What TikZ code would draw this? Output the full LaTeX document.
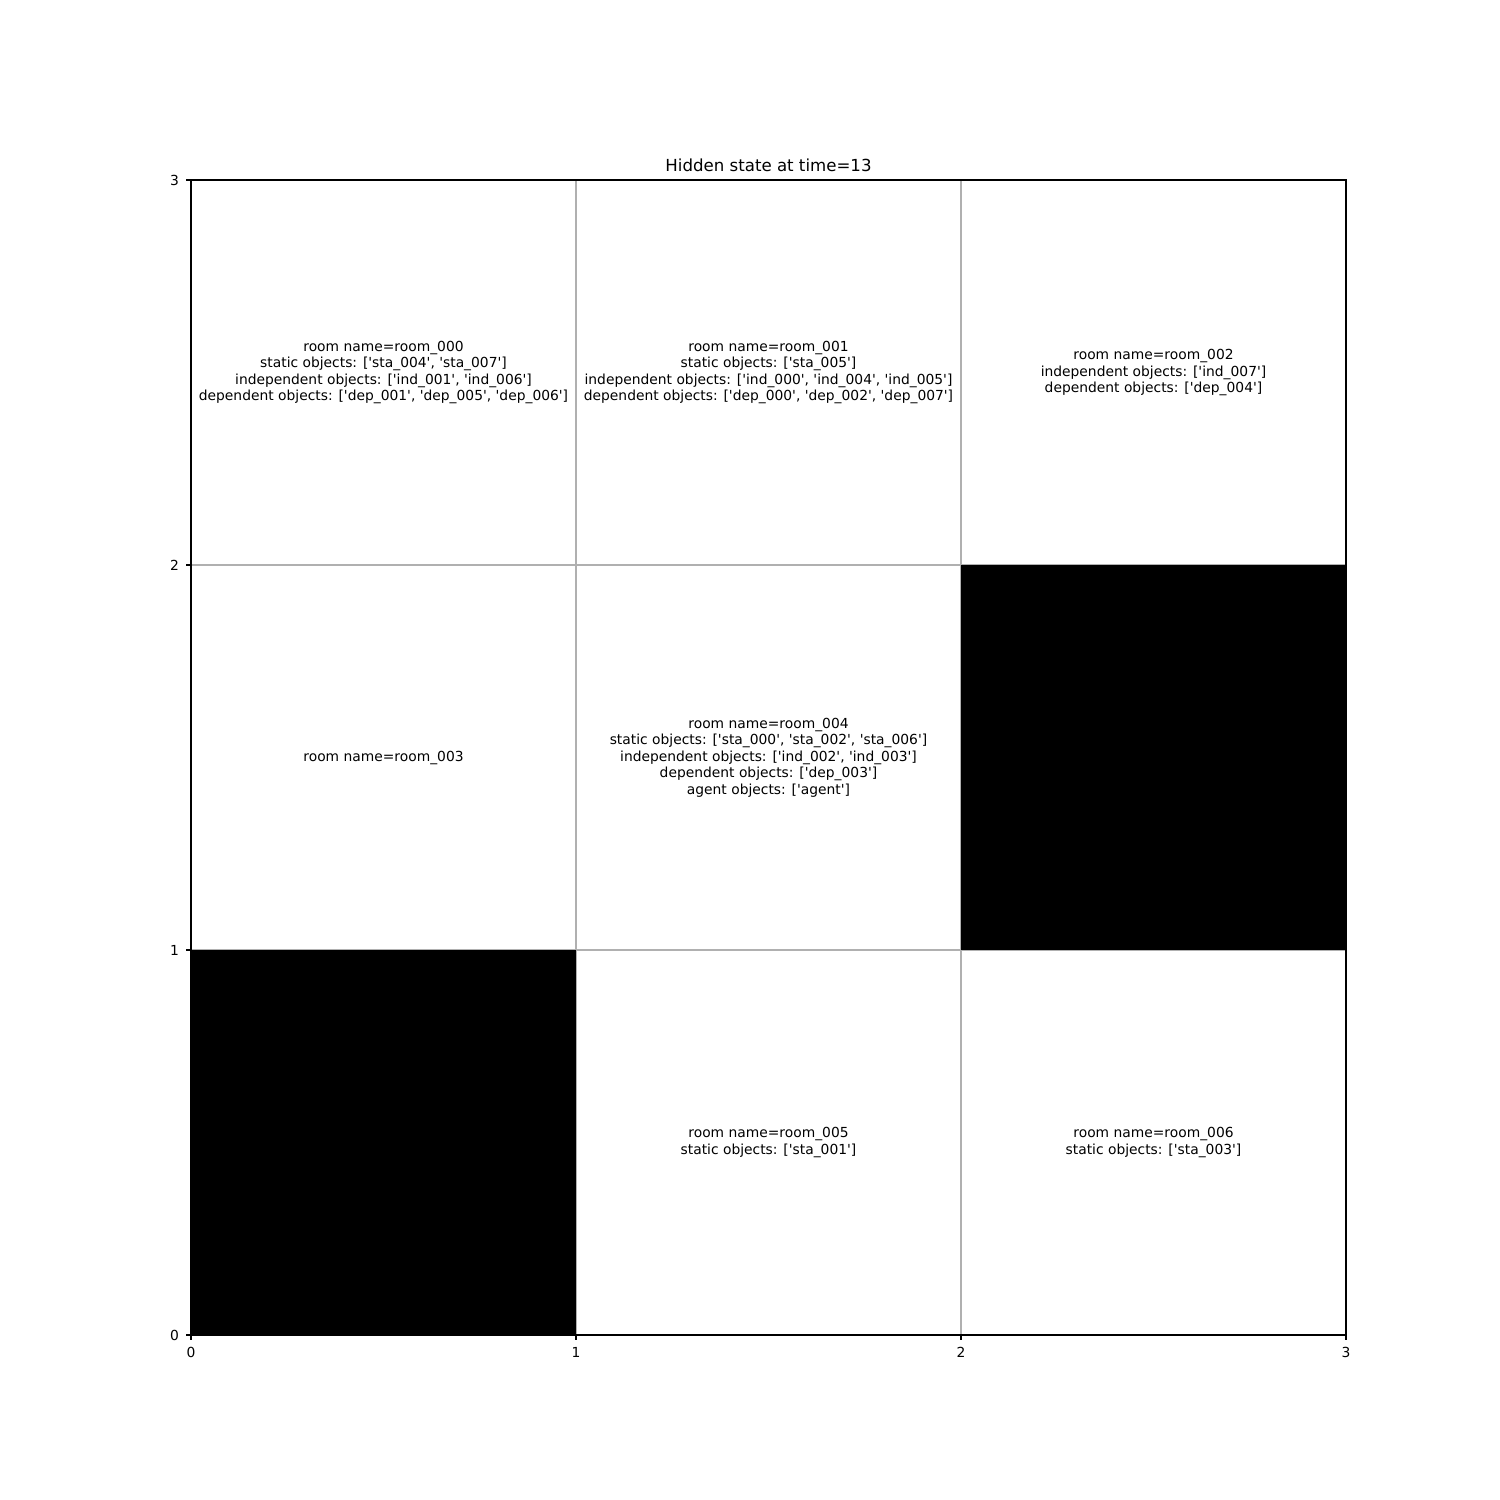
\documentclass[tikz,border=0pt]{standalone}
\usepackage{fontspec}
\setmainfont{DejaVu Sans}[Ligatures=TeXOff]
\definecolor{gridgray}{RGB}{176,176,176}
\newcommand{\obj}[1]{'#1'}
\tikzset{
  roomtext/.style={align=center, inner sep=0pt},
  gridline/.style={draw=gridgray, line width=0.8pt},
  spine/.style={draw=black, line width=0.8pt},
  ticklabel/.style={inner sep=0pt},
}

\begin{document}
\begin{tikzpicture}[x=0.01in,y=-0.01in,font=\fontsize{10}{11.9}\selectfont]
   \useasboundingbox (0,0) rectangle (1500,1500);
   % axes corners
   \coordinate (ll) at (191,1335);
   \coordinate (ur) at (1346,180);
   % grid
   \foreach \i in {1,2} {
      \draw[gridline] (191+385*\i,180) -- (191+385*\i,1335);
      \draw[gridline] (191,1335-385*\i) -- (1346,1335-385*\i);
   }
   % blocked cells
   \fill[black] (191,950) rectangle (576,1335);
   \fill[black] (961,565) rectangle (1346,950);
   \draw[spine] (ll) rectangle (ur);
   % ticks
   \foreach \i in {0,1,2,3} {
      \draw[spine] (191+385*\i,1335) -- ++(0,4.86) node[ticklabel,anchor=north,yshift=-4.86pt] (xt\i) {\i};
      \draw[spine] (191,1335-385*\i) -- ++(-4.86,0) node[ticklabel,anchor=east,xshift=-4.86pt] (yt\i) {\i};
   }
   \node[anchor=base,font=\fontsize{12}{14}\selectfont] (title) at (768.5,171.7) {Hidden state at time=13};
   % rooms
   \node[roomtext] (room000) at (383.5,372.5) {room name=room\_000\\
      static objects: [\obj{sta\_004}, \obj{sta\_007}]\\
      independent objects: [\obj{ind\_001}, \obj{ind\_006}]\\
      dependent objects: [\obj{dep\_001}, \obj{dep\_005}, \obj{dep\_006}]};
   \node[roomtext] (room001) at (768.5,372.5) {room name=room\_001\\
      static objects: [\obj{sta\_005}]\\
      independent objects: [\obj{ind\_000}, \obj{ind\_004}, \obj{ind\_005}]\\
      dependent objects: [\obj{dep\_000}, \obj{dep\_002}, \obj{dep\_007}]};
   \node[roomtext] (room002) at (1153.5,372.5) {room name=room\_002\\
      independent objects: [\obj{ind\_007}]\\
      dependent objects: [\obj{dep\_004}]};
   \node[roomtext] (room003) at (383.5,757.5) {room name=room\_003};
   \node[roomtext] (room004) at (768.5,757.5) {room name=room\_004\\
      static objects: [\obj{sta\_000}, \obj{sta\_002}, \obj{sta\_006}]\\
      independent objects: [\obj{ind\_002}, \obj{ind\_003}]\\
      dependent objects: [\obj{dep\_003}]\\
      agent objects: [\obj{agent}]};
   \node[roomtext] (room005) at (768.5,1142.5) {room name=room\_005\\
      static objects: [\obj{sta\_001}]};
   \node[roomtext] (room006) at (1153.5,1142.5) {room name=room\_006\\
      static objects: [\obj{sta\_003}]};
\end{tikzpicture}
\end{document}
